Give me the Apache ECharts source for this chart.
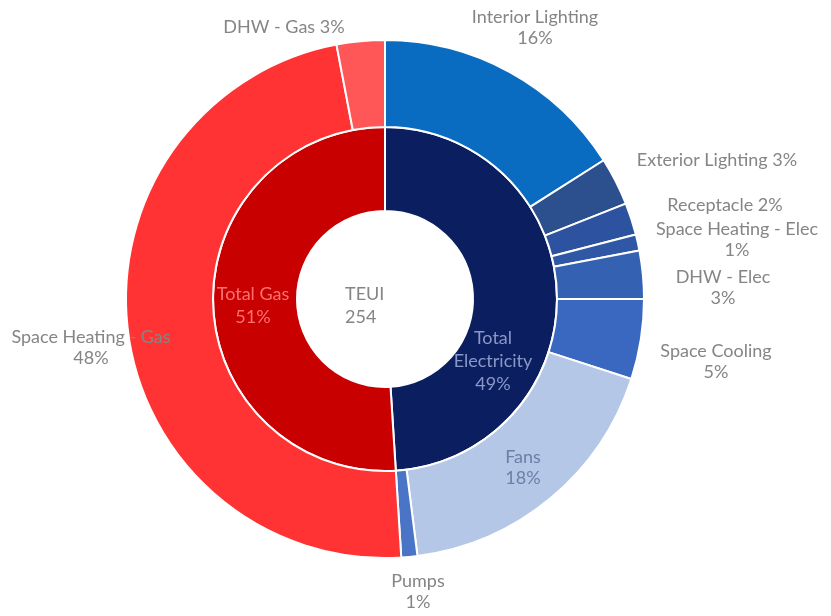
<!DOCTYPE html>
<html>
<head>
<meta charset="utf-8">
<script src="https://cdn.jsdelivr.net/npm/echarts@6/dist/echarts.min.js"></script>
<style>
  html, body { margin: 0; padding: 0; background: #ffffff; }
  #chart { width: 831px; height: 616px; }
</style>
</head>
<body>
<div id="chart"></div>
<script>
// End-use breakdown (share of TEUI, %)
const endUses = ['Interior Lighting', 'Exterior Lighting', 'Receptacle', 'Space Heating - Elec',
  'DHW - Elec', 'Space Cooling', 'Fans', 'Pumps', 'Space Heating - Gas', 'DHW - Gas'];
const endUseShares = [16, 3, 2, 1, 3, 5, 18, 1, 48, 3];

// Fuel totals (%)
const fuels = ['Total Electricity', 'Total Gas'];
const fuelShares = [49, 51];

// Centre text
const totalLabel = 'TEUI';
const totalValue = 254;

const endUseColors = ['#0a6cc0', '#2c4f8e', '#2d53a0', '#3057a6', '#3561b2', '#3a67bf',
  '#b4c7e7', '#4a74c6', '#ff3333', '#ff5757'];
const fuelColors = ['#0b1f60', '#c80000'];
const fuelLabelColors = ['#8a98c8', '#ff7070'];

// Label anchor points (text block centres)
const outerLabelPos = [[535, 28], [717, 160], [725, 205], [737, 240], [723, 288],
  [716, 362], [523, 468], [418, 592], [91, 348], [284, 27]];
const innerLabelPos = [[493, 361], [253, 306]];
const oneLineLabels = ['Exterior Lighting', 'Receptacle', 'DHW - Gas'];

const FONT = 'Lato, "Open Sans", sans-serif';
const CENTER = [385, 299];

const chart = echarts.init(document.getElementById('chart'), null, { renderer: 'canvas' });

chart.setOption({
  animation: false,
  backgroundColor: '#ffffff',
  series: [
    {
      type: 'pie',
      name: 'fuel',
      center: CENTER,
      radius: [88, 172],
      startAngle: 90,
      clockwise: true,
      itemStyle: { borderColor: '#ffffff', borderWidth: 2 },
      label: {
        show: true,
        position: 'inside',
        fontFamily: FONT,
        fontSize: 18,
        lineHeight: 23,
        align: 'center',
        overflow: 'none',
        formatter: p => p.name === 'Total Electricity'
          ? 'Total\nElectricity\n' + p.value + '%'
          : p.name + '\n' + p.value + '%'
      },
      labelLayout: p => ({
        x: innerLabelPos[p.dataIndex][0],
        y: innerLabelPos[p.dataIndex][1],
        align: 'center',
        verticalAlign: 'middle'
      }),
      data: fuels.map((n, i) => ({
        name: n,
        value: fuelShares[i],
        itemStyle: { color: fuelColors[i] },
        label: { color: fuelLabelColors[i] }
      }))
    },
    {
      type: 'pie',
      name: 'endUse',
      center: CENTER,
      radius: [172, 259],
      startAngle: 90,
      clockwise: true,
      itemStyle: { borderColor: '#ffffff', borderWidth: 2 },
      label: {
        show: true,
        position: 'outside',
        color: '#858585',
        fontFamily: FONT,
        fontSize: 18,
        lineHeight: 21,
        align: 'center',
        overflow: 'none',
        formatter: p => oneLineLabels.includes(p.name)
          ? p.name + ' ' + p.value + '%'
          : p.name + '\n' + p.value + '%'
      },
      labelLine: { show: false },
      labelLayout: p => ({
        x: outerLabelPos[p.dataIndex][0],
        y: outerLabelPos[p.dataIndex][1],
        align: 'center',
        verticalAlign: 'middle',
        width: 300
      }),
      data: endUses.map((n, i) => ({
        name: n,
        value: endUseShares[i],
        itemStyle: { color: endUseColors[i] },
        label: n === 'Fans' ? { color: '#6b7fa8' } : {}
      }))
    }
  ],
  graphic: [{
    type: 'text',
    left: CENTER[0] - 40,
    top: CENTER[1] - 16,
    style: {
      text: totalLabel + '\n' + totalValue,
      fill: '#858585',
      font: '18px ' + FONT,
      lineHeight: 23,
      align: 'center',
      width: 80
    }
  }]
});
</script>
</body>
</html>
